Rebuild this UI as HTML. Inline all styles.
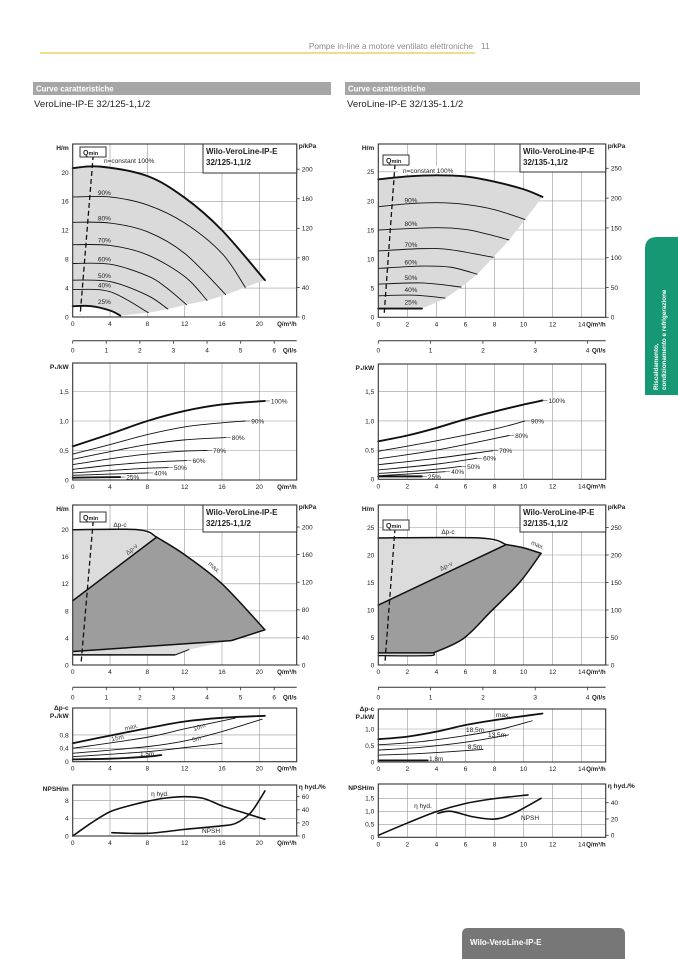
<!DOCTYPE html>
<html><head><meta charset="utf-8"><style>
html,body{margin:0;padding:0;background:#fff;}
body{width:678px;height:959px;overflow:hidden;position:relative;font-family:"Liberation Sans",sans-serif;}
svg{position:absolute;left:0;top:0;}
</style></head><body>
<svg id="pg" width="678" height="959" viewBox="0 0 678 959" xmlns="http://www.w3.org/2000/svg">
<line x1="40" y1="53" x2="475" y2="53" stroke="#ecd36a" stroke-width="1.5"/>
<text x="473" y="49" font-size="8.3" fill="#8a8a8a" text-anchor="end">Pompe in-line a motore ventilato elettroniche</text>
<text x="481" y="49" font-size="8.3" fill="#8a8a8a">11</text>
<rect x="33" y="82" width="298" height="13" fill="#a6a6a6"/>
<text x="36" y="91.5" font-size="7.8" font-weight="bold" fill="#fff">Curve caratteristiche</text>
<text x="34" y="107" font-size="9.6" fill="#222">VeroLine-IP-E 32/125-1,1/2</text>
<rect x="345" y="82" width="295" height="13" fill="#a6a6a6"/>
<text x="348" y="91.5" font-size="7.8" font-weight="bold" fill="#fff">Curve caratteristiche</text>
<text x="347" y="107" font-size="9.6" fill="#222">VeroLine-IP-E 32/135-1.1/2</text>
<path d="M678 237 L657 237 Q645 237 645 249 L645 395 L678 395 Z" fill="#169874"/>
<g transform="translate(658,390) rotate(-90)">
<text x="0" y="0" font-size="6.3" font-weight="bold" fill="#fff">Riscaldamento,</text>
<text x="0" y="8" font-size="6.3" font-weight="bold" fill="#fff">condizionamento e refrigerazione</text>
</g>
<path d="M462 959 L462 934 Q462 928 468 928 L619 928 Q625 928 625 934 L625 959 Z" fill="#777"/>
<text x="470" y="945" font-size="8" font-weight="bold" fill="#fff">Wilo-VeroLine-IP-E</text>
<g id="charts"></g>
</svg>
<script>
// ---------- tick arrays ----------
const leftQTicks=[0,4,8,12,16,20];
const rightQTicks=[0,2,4,6,8,10,12,14];
const leftLsTicks=[0,1,2,3,4,5,6];
const rightLsTicks=[0,1,2,3,4];
const leftHTicks=[0,4,8,12,16,20];
const rightHTicks=[0,5,10,15,20,25];
const leftKpaTicks=[0,40,80,120,160,200];
const rightKpaTicks=[0,50,100,150,200,250];
const p1Ticks=[0,0.5,1.0,1.5];
const p1TickLabels=["0","0,5","1,0","1,5"];
const leftSmallP1Ticks=[0,0.4,0.8];
const leftSmallP1Labels=["0","0,4","0,8"];
const rightSmallP1Ticks=[0,0.5,1.0];
const rightSmallP1Labels=["0","0,5","1,0"];
const leftNpshTicks=[0,4,8];
const rightNpshTicks=[0,0.5,1.0,1.5];
const rightNpshLabels=["0","0,5","1,0","1,5"];
const leftEtaTicks=[0,20,40,60];
const rightEtaTicks=[0,20,40];

// ---------- left head curves (Q m3/h, H m) ----------
const lHead100=[[0,20.6],[3,20.8],[8,19.5],[12,16.5],[16,12],[20.6,5.1]];
const lHead90=[[0,16.6],[4,16.6],[8,15.5],[12,13],[16,8.8],[18.5,4.1]];
const lHead80=[[0,13.1],[4,13],[8,11.8],[12,8.8],[16.4,3.1]];
const lHead70=[[0,10],[4,9.9],[8,8.6],[12,5.6],[14.4,2.3]];
const lHead60=[[0,7.4],[4,7.3],[8,5.7],[10,4.1],[12.2,1.7]];
const lHead50=[[0,5.1],[4,4.9],[8,3.0],[10.2,1.1]];
const lHead40=[[0,3.8],[4,3.5],[8.1,0.6]];
const lHead25=[[0,1.5],[2,1.5],[4,0.9],[5.1,0.2]];
const lHeadEnds=[[20.6,5.1],[18.5,4.1],[16.4,3.1],[14.4,2.3],[12.2,1.7],[10.2,1.1],[8.1,0.6],[5.1,0.2]];
const lHeadLabels=["90%","80%","70%","60%","50%","40%","25%"];
// ---------- left power curves (kW) ----------
const lP100=[[0,0.57],[4,0.78],[8,1.0],[12,1.17],[16,1.28],[20.6,1.34]];
const lP90=[[0,0.44],[4,0.6],[8,0.77],[12,0.9],[16,0.97],[18.5,1.0]];
const lP80=[[0,0.35],[4,0.48],[8,0.6],[12,0.68],[16.4,0.72]];
const lP70=[[0,0.26],[4,0.36],[8,0.44],[12,0.49],[14.4,0.5]];
const lP60=[[0,0.18],[4,0.25],[8,0.3],[12.2,0.33]];
const lP50=[[0,0.12],[4,0.16],[8,0.2],[10.2,0.21]];
const lP40=[[0,0.08],[4,0.1],[8.1,0.12]];
const lP25=[[0,0.04],[5.1,0.05]];
const lPLabels=["100%","90%","80%","70%","60%","50%","40%","25%"];
// ---------- left control-mode chart ----------
const lDpc=[[0,20],[7,20],[9,18.9]];
const lMax=[[9,18.9],[12,16.3],[16,12],[20.6,5.2]];
const lDpv=[[0,9.5],[9,18.9]];
const lMinLine=[[0,2],[17,3.6],[20.6,5.2]];
const lMinFloor=[[0,1.5],[11,1.5],[12.5,2.3]];
const lCtlP1Max=[[0,0.55],[4,0.78],[8,1.0],[12,1.2],[16,1.31],[20.6,1.37]];
const lCtlP115=[[0,0.4],[8,0.73],[12,0.98],[17.4,1.3]];
const lCtlP110=[[0,0.25],[8,0.45],[12,0.62],[16,0.9],[20.3,1.27]];
const lCtlP15=[[0,0.15],[8,0.3],[12,0.42],[16,0.55]];
const lCtlP115m=[[0,0.07],[4,0.09],[8,0.15],[9.5,0.2]];
const lEta=[[0,0],[2,20],[4,37],[6,46],[8,53],[10,58],[12,60],[14,57.5],[16,46],[18,37],[20.6,25.5]];
const lNpsh=[[4.2,0.75],[8,0.6],[12,1.5],[16,2.3],[17.5,2.9],[19,5.1],[20,8.1],[20.6,10.2]];
// ---------- right head curves ----------
const rHead100=[[0,23.7],[2,24.2],[4,24.4],[6,24.2],[8,23.3],[10,22],[11.3,20.7]];
const rHead90=[[0,19],[2,19.5],[4,19.7],[6,19.4],[8,18.5],[10.1,16.8]];
const rHead80=[[0,15],[4,15.4],[6,15.1],[7.5,14.3],[9,13.3]];
const rHead70=[[0,11.4],[3,11.8],[5,11.6],[7.9,10.3]];
const rHead60=[[0,8.4],[3,8.8],[5,8.6],[6.8,7.4]];
const rHead50=[[0,5.7],[3,5.9],[5.7,5.2]];
const rHead40=[[0,3.7],[2.5,3.8],[4.6,3.3]];
const rHead25=[[0,1.5],[3.0,1.5]];
const rHeadEnds=[[11.3,20.7],[10.1,16.8],[9,13.3],[7.9,10.3],[6.8,7.4],[5.7,5.2],[4.6,3.3],[3.0,1.5]];
const rHeadLabels=["90%","80%","70%","60%","50%","40%","25%"];
const rP100=[[0,0.65],[2,0.75],[4,0.88],[6,1.03],[8,1.16],[10,1.28],[11.3,1.35]];
const rP90=[[0,0.48],[4,0.66],[8,0.86],[10.1,1.0]];
const rP80=[[0,0.35],[4,0.5],[9,0.75]];
const rP70=[[0,0.25],[4,0.36],[7.9,0.49]];
const rP60=[[0,0.16],[4,0.26],[6.8,0.36]];
const rP50=[[0,0.1],[3,0.15],[5.7,0.22]];
const rP40=[[0,0.06],[2,0.09],[4.6,0.13]];
const rP25=[[0,0.05],[3.0,0.05]];
const rPLabels=["100%","90%","80%","70%","60%","50%","40%","25%"];
const rDpc=[[0,23.1],[7,23.1],[8.8,21.9]];
const rMax=[[8.8,21.9],[10,21.3],[11.2,20.3]];
const rDpv=[[0,10.9],[8.8,21.9]];
const rLowEdge=[[11.2,20.3],[9.75,15.1],[7.7,9.6],[5.85,4.8],[3.8,2.2]];
const rMinLine=[[3.8,2.2],[0,2.2]];
const rMinFloor=[[0,1.7],[3.5,1.7],[3.8,2.2]];
const rCtlP1Max=[[0,0.69],[2,0.77],[4,0.92],[6,1.12],[8,1.27],[11.3,1.47]];
const rCtlP1185=[[0,0.52],[3,0.62],[6,0.8],[8.5,1.0],[10.6,1.25]];
const rCtlP1135=[[0,0.36],[3,0.45],[6,0.6],[8.95,0.82]];
const rCtlP185=[[0,0.21],[3,0.26],[7.2,0.38]];
const rCtlP118=[[0,0.05],[3.4,0.05]];
const rEta=[[0,0],[2,15],[4,29],[6,39],[8,45],[10.3,49.5]];
const rNpsh=[[4.1,0.92],[5,1.0],[6.5,0.79],[8,0.7],[9.3,0.92],[11.2,1.5]];

// ---------- helpers ----------
const NS="http://www.w3.org/2000/svg";
const root=document.getElementById('charts');
function mk(tag,parent){const e=document.createElementNS(NS,tag);(parent||root).appendChild(e);return e;}
function smooth(pts){
  let d='M'+pts[0][0].toFixed(2)+' '+pts[0][1].toFixed(2);
  for(let i=0;i<pts.length-1;i++){
    const p0=pts[i-1]||pts[i],p1=pts[i],p2=pts[i+1],p3=pts[i+2]||p2;
    const c1=[p1[0]+(p2[0]-p0[0])/6,p1[1]+(p2[1]-p0[1])/6];
    const c2=[p2[0]-(p3[0]-p1[0])/6,p2[1]-(p3[1]-p1[1])/6];
    d+=' C'+c1[0].toFixed(2)+' '+c1[1].toFixed(2)+' '+c2[0].toFixed(2)+' '+c2[1].toFixed(2)+' '+p2[0].toFixed(2)+' '+p2[1].toFixed(2);
  }
  return d;
}
function txt(x,y,s,size,anchor,weight,name,g){
  const t=mk('text',g);
  t.setAttribute('x',x);t.setAttribute('y',y);t.setAttribute('font-size',size||7);
  t.setAttribute('fill','#222');
  if(anchor)t.setAttribute('text-anchor',anchor);
  if(weight)t.setAttribute('font-weight',weight);
  t.textContent=s;
  
  
  return t;
}
function curve(c,data,w,name,fy){
  const Y=fy||c.Y;
  const p=mk('path',c.g);
  p.setAttribute('d',smooth(data.map(d=>[c.X(d[0]),Y(d[1])])));
  p.setAttribute('fill','none');p.setAttribute('stroke','#111');p.setAttribute('stroke-width',w);
  p.setAttribute('stroke-linecap','round');
  
  
  return p;
}
function areaSegs(c,segs,fill,name){
  let d='';
  segs.forEach((s,i)=>{let sd=smooth(s.map(q=>[c.X(q[0]),c.Y(q[1])]));if(i>0)sd='L'+sd.slice(1);d+=sd+' ';});
  const p=mk('path',c.g);
  p.setAttribute('d',d+'Z');
  p.setAttribute('fill',fill);
  
  
  return p;
}
function poly(c,data,fill,name){
  const p=mk('polygon',c.g);
  p.setAttribute('points',data.map(d=>c.X(d[0]).toFixed(2)+','+c.Y(d[1]).toFixed(2)).join(' '));
  p.setAttribute('fill',fill);
  
  
  return p;
}
function line(g,x1,y1,x2,y2,w,col,name){
  const l=mk('line',g);
  l.setAttribute('x1',x1);l.setAttribute('y1',y1);l.setAttribute('x2',x2);l.setAttribute('y2',y2);
  l.setAttribute('stroke',col||'#111');l.setAttribute('stroke-width',w);
  
  
  return l;
}
function chart(c){
  const g=mk('g');
  
  
  c.g=g;
  const [l,t,r,b]=c.box;
  c.xTicks.forEach(v=>{const x=c.X(v);if(x>l+1&&x<r-1)line(g,x,t,x,b,0.6,'#999','grid-x');});
  c.yTicks.forEach(v=>{const y=c.Y(v);if(y<b-1&&y>t+1)line(g,l,y,r,y,0.6,'#999','grid-y');});
  return g;
}
function frame(c){
  const [l,t,r,b]=c.box,g=c.g;
  const fr=mk('rect',g);
  fr.setAttribute('x',l);fr.setAttribute('y',t);fr.setAttribute('width',r-l);fr.setAttribute('height',b-t);
  fr.setAttribute('fill','none');fr.setAttribute('stroke','#333');fr.setAttribute('stroke-width',1.1);
  
  
  c.xTicks.forEach(v=>txt(c.X(v),b+9,String(v),6.6,'middle',null,'x-tick-label',g));
  txt(r,b+9,'Q/m³/h',6.2,'end','bold','x-axis-title',g);
  c.yTicks.forEach((v,i)=>txt(l-4,c.Y(v)+2.4,c.yLabels?c.yLabels[i]:String(v),6.6,'end',null,'y-tick-label',g));
  if(c.dp){
    txt(l-4,t+2,'Δp-c',6.6,'end','bold','dp-c-title',g);
    txt(l-4,t+10,c.yTitle,6.6,'end','bold','y-axis-title',g);
  } else txt(l-4,t+6,c.yTitle,6.6,'end','bold','y-axis-title',g);
  if(c.rTicks){
    c.rTicks.forEach(v=>{const y=c.RY(v);line(g,r,y,r+3,y,0.8,'#333','right-tick');txt(r+5,y+2.4,String(v),6.6,'start',null,'right-tick-label',g);});
    txt(r+2,t+4,c.rTitle,6.6,'start','bold','right-axis-title',g);
  }
}
function lsAxis(g,x0,k,ticks,y,right){
  line(g,x0,y,right,y,1,'#333','ls-axis-line');
  ticks.forEach(v=>{const x=x0+v*3.6*k;line(g,x,y,x,y+3,0.8,'#333','ls-tick');txt(x,y+12,String(v),6.6,'middle',null,'ls-tick-label',g);});
  txt(right,y+12,'Q/l/s',6.4,'end','bold','ls-axis-title',g);
}
function dashed(c,a,b2){
  const l=line(c.g,c.X(a[0]),c.Y(a[1]),c.X(b2[0]),c.Y(b2[1]),1.3,'#111','qmin-line');
  l.setAttribute('stroke-dasharray','5,3');
}
function box(g,x,y,w,h,name){
  const r=mk('rect',g);r.setAttribute('x',x);r.setAttribute('y',y);r.setAttribute('width',w);r.setAttribute('height',h);
  r.setAttribute('fill','#fff');r.setAttribute('stroke','#333');r.setAttribute('stroke-width',1);
  
  
}
function titleBox(g,x,y,w,h,model){
  box(g,x,y,w,h,'model-title-box');
  txt(x+3,y+10,'Wilo-VeroLine-IP-E',8,'start','bold','model-title-line1',g);
  txt(x+3,y+21,model,8,'start','bold','model-title-line2',g);
}
function qminBox(g,x,y){
  box(g,x,y,26,10,'qmin-box');
  const t=txt(x+3,y+8,'Q',7,'start','bold','qmin-label',g);
  const s=mk('tspan',t);s.setAttribute('font-size',5.5);s.textContent='min';
}
function rot(g,x,y,a,s,name){const t=txt(x,y,s,6.5,'middle',null,name,g);t.setAttribute('transform','rotate('+a+' '+x+' '+y+')');t.setAttribute('fill','#444');}

const LX=q=>72.7+q*9.33, RX=q=>378.3+q*14.53;
const LR=296.7, RR=605.7;

// ===== Left top head chart =====
const L1={name:'left-head-chart',box:[72.7,144,LR,317],X:LX,Y:h=>317-h*7.23,xTicks:leftQTicks,yTicks:leftHTicks,yTitle:'H/m',rTicks:leftKpaTicks,RY:p=>317-p*0.739,rTitle:'p/kPa'};
chart(L1);
areaSegs(L1,[lHead100,lHeadEnds,lHead25.slice().reverse()],'#dadada','operating-area');
[lHead90,lHead80,lHead70,lHead60,lHead50,lHead40].forEach((d,i)=>curve(L1,d,0.9,'head-curve-'+lHeadLabels[i]));
curve(L1,lHead100,1.9,'head-curve-100');
curve(L1,lHead25,1.9,'head-curve-25');
[lHead90,lHead80,lHead70,lHead60,lHead50,lHead40,lHead25].forEach((d,i)=>txt(LX(2.7),L1.Y(d[0][1])-2,lHeadLabels[i],6.5,'start',null,'head-curve-label',L1.g));
dashed(L1,[2.2,22.4],[0.8,0.3]);
frame(L1);
txt(104,163,'n=constant 100%',6.5,'start',null,'n-constant-label',L1.g);
qminBox(L1.g,80,147);
titleBox(L1.g,203,144,93.7,29,'32/125-1,1/2');
lsAxis(L1.g,72.7,9.33,leftLsTicks,340.7,LR);

// ===== Left P1 chart =====
const L2={name:'left-power-chart',box:[72.7,363,LR,480],X:LX,Y:p=>480-p*59,xTicks:leftQTicks,yTicks:p1Ticks,yLabels:p1TickLabels,yTitle:'P₁/kW'};
chart(L2);
[lP100,lP90,lP80,lP70,lP60,lP50,lP40,lP25].forEach((d,i)=>{
  const w=(i==0||i==7)?1.9:0.9;curve(L2,d,w,'power-curve-'+lPLabels[i]);
  const e=d[d.length-1];line(L2.g,LX(e[0]),L2.Y(e[1]),LX(e[0])+5,L2.Y(e[1]),0.6,'#555','label-leader');
  txt(LX(e[0])+6,L2.Y(e[1])+2.4,lPLabels[i],6.5,'start',null,'power-curve-label',L2.g);
});
frame(L2);

// ===== Left control chart =====
const L3={name:'left-control-chart',box:[72.7,505,LR,665],X:LX,Y:h=>665-h*6.765,xTicks:leftQTicks,yTicks:leftHTicks,yTitle:'H/m',rTicks:leftKpaTicks,RY:p=>665-p*0.69,rTitle:'p/kPa'};
chart(L3);
poly(L3,[...lDpc,...lDpv.slice().reverse()],'#dcdcdc','dpc-area');
poly(L3,[[0,2],[17,3.6],[12.5,2.3],[11,1.5],[0,1.5]],'#dcdcdc','min-area');
areaSegs(L3,[lDpv,lMax,[[20.6,5.2],[17,3.6]],[[17,3.6],[0,2]]],'#9d9d9d','dpv-area');
curve(L3,lDpc,1.5,'dp-c-curve');curve(L3,lMax,1.5,'max-curve');curve(L3,lDpv,1.5,'dp-v-curve');
line(L3.g,LX(0),L3.Y(2),LX(17),L3.Y(3.6),1.5,'#111','min-curve');
line(L3.g,LX(17),L3.Y(3.6),LX(20.6),L3.Y(5.2),1.5,'#111','min-curve-end');
line(L3.g,LX(0),L3.Y(1.5),LX(11),L3.Y(1.5),1.5,'#111','floor-curve');
line(L3.g,LX(11),L3.Y(1.5),LX(12.5),L3.Y(2.3),1,'#111','floor-curve-end');
dashed(L3,[2.2,21.3],[0.9,0.3]);
frame(L3);
txt(120,527,'Δp-c',6.5,'middle',null,'dp-c-label',L3.g);
rot(L3.g,133,551,-40,'Δp-v','dp-v-label');
rot(L3.g,213,569,42,'max.','max-label');
qminBox(L3.g,80,512);
titleBox(L3.g,203,505,93.7,27,'32/125-1,1/2');
lsAxis(L3.g,72.7,9.33,leftLsTicks,687.3,LR);

// ===== Left control P1 =====
const L4={name:'left-control-power-chart',box:[72.7,708,LR,761.7],X:LX,Y:p=>761.7-p*33.5,xTicks:leftQTicks,yTicks:leftSmallP1Ticks,yLabels:leftSmallP1Labels,yTitle:'P₁/kW',dp:true};
chart(L4);
curve(L4,lCtlP1Max,1.8,'power-max');curve(L4,lCtlP115,0.9,'power-15m');curve(L4,lCtlP110,0.9,'power-10m');curve(L4,lCtlP15,0.9,'power-5m');curve(L4,lCtlP115m,1.8,'power-1-5m');
frame(L4);
rot(L4.g,132,729,-15,'max.','max-label');rot(L4.g,118,740,-12,'15m','15m-label');rot(L4.g,200,729,-20,'10m','10m-label');rot(L4.g,197,741,-18,'5m','5m-label');
txt(140,756,'1,5m',6.5,'start',null,'1-5m-label',L4.g);

// ===== Left NPSH =====
const L5={name:'left-npsh-chart',box:[72.7,785,LR,836],X:LX,Y:n=>836-n*4.42,xTicks:leftQTicks,yTicks:leftNpshTicks,yTitle:'NPSH/m',rTicks:leftEtaTicks,RY:e=>836-e*0.655,rTitle:'η hyd./%'};
chart(L5);
curve(L5,lEta,1.6,'eta-curve',L5.RY);curve(L5,lNpsh,1.6,'npsh-curve');
frame(L5);
txt(160,796,'η hyd.',6.5,'middle',null,'eta-label',L5.g);
txt(211,833,'NPSH',6.5,'middle',null,'npsh-label',L5.g);

// ===== Right top head chart =====
const R1={name:'right-head-chart',box:[378.3,144,RR,317.3],X:RX,Y:h=>317.3-h*5.82,xTicks:rightQTicks,yTicks:rightHTicks,yTitle:'H/m',rTicks:rightKpaTicks,RY:p=>317.3-p*0.596,rTitle:'p/kPa'};
chart(R1);
areaSegs(R1,[rHead100,rHeadEnds,[[3.0,1.5],[0,1.5]]],'#dadada','operating-area');
[rHead90,rHead80,rHead70,rHead60,rHead50,rHead40].forEach((d,i)=>curve(R1,d,0.9,'head-curve-'+rHeadLabels[i]));
curve(R1,rHead100,1.9,'head-curve-100');curve(R1,rHead25,1.9,'head-curve-25');
[rHead90,rHead80,rHead70,rHead60,rHead50,rHead40,rHead25].forEach((d,i)=>txt(RX(1.8),R1.Y(d[0][1])-4,rHeadLabels[i],6.5,'start',null,'head-curve-label',R1.g));
dashed(R1,[1.15,26.3],[0.4,0.4]);
frame(R1);
const nb=mk('rect',R1.g);nb.setAttribute('x',398);nb.setAttribute('y',166);nb.setAttribute('width',66);nb.setAttribute('height',8);nb.setAttribute('fill','#fff');


txt(403,173,'n=constant 100%',6.5,'start',null,'n-constant-label',R1.g);
qminBox(R1.g,383,155);
titleBox(R1.g,520,144,85.7,28,'32/135-1,1/2');
lsAxis(R1.g,378.3,14.53,rightLsTicks,340.7,RR);

// ===== Right P1 =====
const R2={name:'right-power-chart',box:[378.3,364,RR,479.3],X:RX,Y:p=>479.3-p*58.4,xTicks:rightQTicks,yTicks:p1Ticks,yLabels:p1TickLabels,yTitle:'P₁/kW'};
chart(R2);
[rP100,rP90,rP80,rP70,rP60,rP50,rP40,rP25].forEach((d,i)=>{
  const w=(i==0||i==7)?1.9:0.9;curve(R2,d,w,'power-curve-'+rPLabels[i]);
  const e=d[d.length-1];line(R2.g,RX(e[0]),R2.Y(e[1]),RX(e[0])+5,R2.Y(e[1]),0.6,'#555','label-leader');
  txt(RX(e[0])+6,R2.Y(e[1])+2.4,rPLabels[i],6.5,'start',null,'power-curve-label',R2.g);
});
frame(R2);

// ===== Right control chart =====
const R3={name:'right-control-chart',box:[378.3,505,RR,665],X:RX,Y:h=>665-h*5.5,xTicks:rightQTicks,yTicks:rightHTicks,yTitle:'H/m',rTicks:rightKpaTicks,RY:p=>665-p*0.55,rTitle:'p/kPa'};
chart(R3);
poly(R3,[...rDpc,...rDpv.slice().reverse()],'#dcdcdc','dpc-area');
poly(R3,[[0,2.2],[3.8,2.2],[3.5,1.7],[0,1.7]],'#dcdcdc','min-area');
areaSegs(R3,[rDpv,rMax,rLowEdge,[[3.8,2.2],[0,2.2]]],'#9d9d9d','dpv-area');
curve(R3,rDpc,1.5,'dp-c-curve');curve(R3,rMax,1.5,'max-curve');curve(R3,rDpv,1.5,'dp-v-curve');
curve(R3,rLowEdge,1.5,'min-edge');curve(R3,rMinLine,1.5,'min-curve');curve(R3,rMinFloor,1.3,'floor-curve');
dashed(R3,[1.15,24.9],[0.45,0.2]);
frame(R3);
txt(448,534,'Δp-c',6.5,'middle',null,'dp-c-label',R3.g);
rot(R3.g,447,568,-27,'Δp-v','dp-v-label');
rot(R3.g,537,547,22,'max.','max-label');
qminBox(R3.g,383,520);
titleBox(R3.g,520,505,85.7,27,'32/135-1,1/2');
lsAxis(R3.g,378.3,14.53,rightLsTicks,687.3,RR);

// ===== Right control P1 =====
const R4={name:'right-control-power-chart',box:[378.3,709,RR,762],X:RX,Y:p=>762-p*33,xTicks:rightQTicks,yTicks:rightSmallP1Ticks,yLabels:rightSmallP1Labels,yTitle:'P₁/kW',dp:true};
chart(R4);
curve(R4,rCtlP1Max,1.8,'power-max');curve(R4,rCtlP1185,0.9,'power-18-5m');curve(R4,rCtlP1135,0.9,'power-13-5m');curve(R4,rCtlP185,0.9,'power-8-5m');curve(R4,rCtlP118,1.8,'power-1-8m');
frame(R4);
txt(503,717,'max.',6.5,'middle',null,'max-label',R4.g);
txt(475,732,'18,5m',6.5,'middle',null,'18-5m-label',R4.g);
txt(497,737,'13,5m',6.5,'middle',null,'13-5m-label',R4.g);
txt(475,749,'8,5m',6.5,'middle',null,'8-5m-label',R4.g);
txt(429,761,'1,8m',6.5,'start',null,'1-8m-label',R4.g);

// ===== Right NPSH =====
const R5={name:'right-npsh-chart',box:[378.3,784,RR,837.3],X:RX,Y:n=>837.3-n*26,xTicks:rightQTicks,yTicks:rightNpshTicks,yLabels:rightNpshLabels,yTitle:'NPSH/m',rTicks:rightEtaTicks,RY:e=>835.3-e*0.815,rTitle:'η hyd./%'};
chart(R5);
curve(R5,rEta,1.6,'eta-curve',R5.RY);curve(R5,rNpsh,1.6,'npsh-curve');
frame(R5);
txt(423,808,'η hyd.',6.5,'middle',null,'eta-label',R5.g);
txt(530,820,'NPSH',6.5,'middle',null,'npsh-label',R5.g);
</script>
</body></html>
